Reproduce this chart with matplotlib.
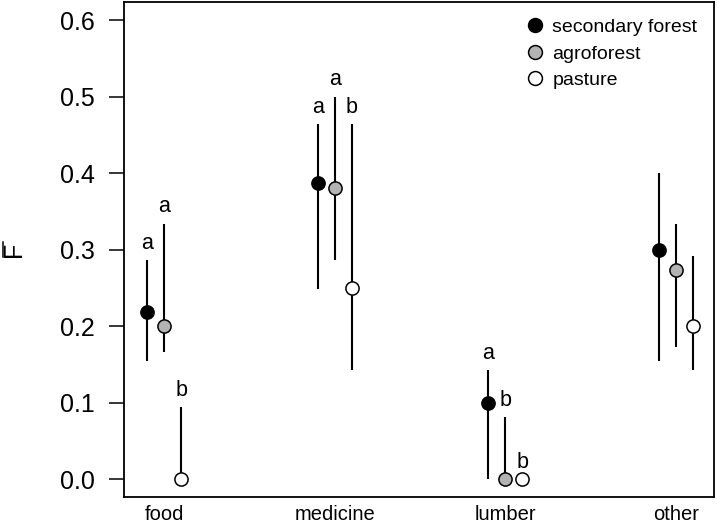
import matplotlib
matplotlib.use("Agg")
import matplotlib.pyplot as plt
from matplotlib.lines import Line2D
import numpy as np

plt.rcParams['font.family'] = ['Liberation Sans', 'DejaVu Sans']

categories = ['food', 'medicine', 'lumber', 'other']
series = ['secondary forest', 'agroforest', 'pasture']

# mean F and interval ends, per land use
sec = [0.219, 0.387, 0.100, 0.300]
sec_lo = [0.154, 0.249, 0.0, 0.154]
sec_hi = [0.286, 0.464, 0.142, 0.400]
agro = [0.200, 0.380, 0.0, 0.273]
agro_lo = [0.166, 0.286, 0.0, 0.173]
agro_hi = [0.334, 0.500, 0.081, 0.334]
past = [0.0, 0.250, 0.0, 0.200]
past_lo = [0.0, 0.142, 0.0, 0.142]
past_hi = [0.094, 0.464, 0.0, 0.292]

# significance letters
sec_let = ['a', 'a', 'a', '']
agro_let = ['a', 'a', 'b', '']
past_let = ['b', 'b', 'b', '']

fig = plt.figure(figsize=(7.17, 5.26), dpi=100)
ax = fig.add_axes([0.173, 0.055, 0.8228, 0.941])

x = np.arange(1, len(categories) + 1)
groups = [
    (sec, sec_lo, sec_hi, sec_let, 'black', -0.1),
    (agro, agro_lo, agro_hi, agro_let, '#b3b3b3', 0.0),
    (past, past_lo, past_hi, past_let, 'white', 0.1),
]

for (m, lo, hi, let, col, off), name in zip(groups, series):
    xs = x + off
    ax.vlines(xs, lo, hi, color='black', lw=1.5, zorder=2)
    ax.plot(xs, m, 'o', ms=9.5, mfc=col, mec='black', mew=1.1,
            ls='none', zorder=3, label=name)
    for xi, h, l in zip(xs, hi, let):
        if l:
            ax.text(xi, h + 0.022, l, ha='center', va='center', fontsize=15.5)

ax.set_xlim(1 - 0.235, 4 + 0.223)
ax.set_ylim(-0.0235, 0.6235)
ax.set_xticks(x)
ax.set_xticklabels(categories, fontsize=14.5)
ax.set_yticks(np.arange(0, 0.61, 0.1))
ax.set_yticklabels(['%.1f' % v for v in np.arange(0, 0.61, 0.1)], fontsize=18)
ax.tick_params(axis='x', length=0, pad=6)
ax.tick_params(axis='y', direction='out', length=11, width=1.1, pad=10)
for s in ax.spines.values():
    s.set_linewidth(1.3)

# y label: F with a bar over it (bar drawn by hand, mathtext drops it here)
fig.text(0.0195, 0.525, 'F', rotation=90, ha='center', va='center', fontsize=18)
fig.add_artist(Line2D([0.0035, 0.0035], [0.511, 0.539], color='black',
                      lw=1.1, transform=fig.transFigure))

ax.legend(loc='upper right', frameon=False, fontsize=14, handletextpad=0.3,
          borderaxespad=0.45, labelspacing=0.45, handlelength=1.2,
          markerscale=1.05)

fig.savefig('out.png', dpi=100)
